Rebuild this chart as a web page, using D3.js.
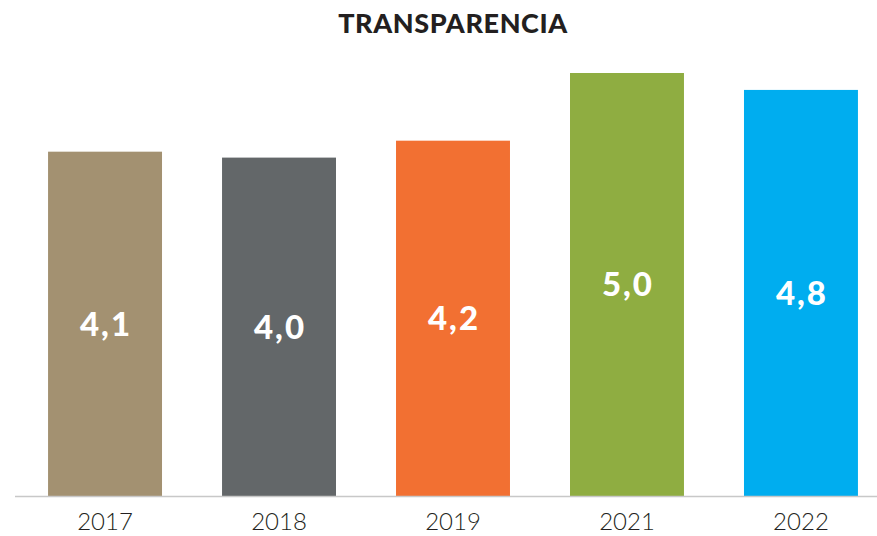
<!DOCTYPE html>
<html><head><meta charset="utf-8">
<script src="https://cdn.jsdelivr.net/npm/d3@7"></script>
<style>body{margin:0;background:#fff}svg{display:block}</style>
</head><body>
<svg id="c" width="877" height="536"></svg>
<script>
const years = ["2017","2018","2019","2021","2022"];
const values = [4.07, 4.0, 4.2, 5.0, 4.8];
const colors = ["#A39171","#636769","#F27032","#8FAD41","#00ADEF"];
const title = "TRANSPARENCIA";

const svg = d3.select("#c");
const W = 877, H = 536, base = 496;
const x = d3.scaleBand().domain(years).range([15, 891]).paddingInner(0.345).paddingOuter(0.19);
const y = d3.scaleLinear().domain([0, 5]).range([base, 73]);
const fmt = v => d3.format(".1f")(v).replace(".", ",");

svg.append("text").attr("x", 453).attr("y", 33).attr("text-anchor","middle")
  .attr("font-family","Lato, sans-serif").attr("font-weight",900).attr("font-size",27)
  .attr("letter-spacing",0.6)
  .attr("fill","#231f20").text(title);

const data = years.map((d,i)=>({year:d, v:values[i], c:colors[i]}));
svg.selectAll("rect.bar").data(data).join("rect").attr("class","bar")
  .attr("x", d=>x(d.year)).attr("width", x.bandwidth())
  .attr("y", d=>y(d.v)).attr("height", d=>base - y(d.v)).attr("fill", d=>d.c);

const axis = svg.append("g").attr("transform",`translate(0,${base})`)
  .call(d3.axisBottom(x).tickSize(0).tickPadding(17));
axis.select(".domain").attr("d", `M15,0.5H${W}`).attr("stroke","#c8c8c8").attr("stroke-width",1.5);
axis.selectAll("text").attr("font-family","Lato, sans-serif").attr("font-weight",300).attr("font-size",24)
  .attr("fill","#231f20").attr("dy","0.71em");

svg.selectAll("text.val").data(data).join("text").attr("class","val")
  .attr("x", d=>x(d.year)+x.bandwidth()/2 + 1).attr("y", d=>(y(d.v)+base)/2)
  .attr("dy","0.36em").attr("text-anchor","middle")
  .attr("font-family","Lato, sans-serif").attr("font-weight",900).attr("font-size",33)
  .attr("letter-spacing",2)
  .attr("fill","#fff").text(d=>fmt(d.v));
</script>
</body></html>
